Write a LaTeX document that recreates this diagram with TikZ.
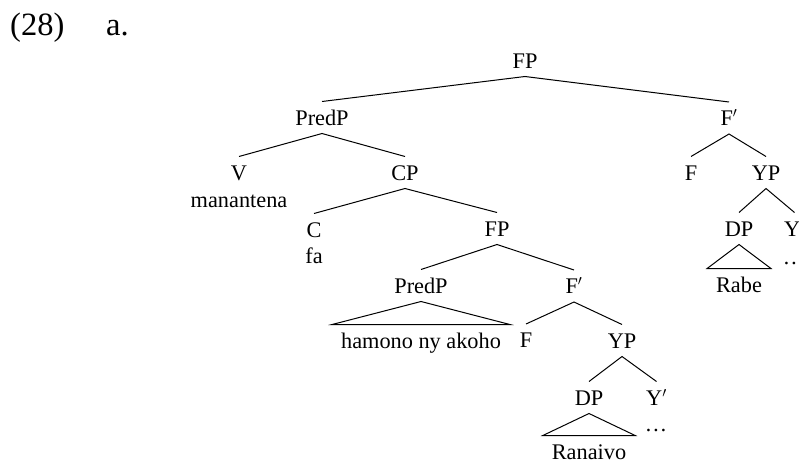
\documentclass[tikz,border=0pt]{standalone}
\usepackage{fontspec}
\setmainfont{Liberation Serif}
\begin{document}
\begin{tikzpicture}[x=1pt,y=-1pt,
  lab/.style={font=\fontsize{22.3}{26}\selectfont, anchor=base, text height=15pt, text depth=0pt, inner ysep=8.5pt, inner xsep=9pt, outer sep=0pt},
  hdr/.style={font=\fontsize{32.5}{38}\selectfont, anchor=base west, inner sep=0pt},
  edge/.style={line width=1pt, line join=miter}]
\useasboundingbox (0,0) rectangle (799,460);
% header
\node[hdr] (num) at (10,36) {(28)};
\node[hdr] (sub) at (106,36) {a.};
% nodes
\node[lab] (fp0) at (525,68) {FP};
\node[lab] (predp1) at (322,125) {PredP};
\node[lab] (fbar1) at (729,125.5) {F$'$};
\node[lab] (v) at (239,180) {V};
\node[lab] (man) at (239,207) {manantena};
\node[lab] (cp) at (405,180) {CP};
\node[lab] (fr) at (691,180) {F};
\node[lab] (ypr) at (766,180) {YP};
\node[lab] (c) at (314,237) {C};
\node[lab] (fa) at (314,263) {fa};
\node[lab] (fp2) at (497,236) {FP};
\node[lab] (dpr) at (739,236) {DP};
\node[lab] (ybarr) at (794.5,236) {Y$'$};
\node[lab] (dotsr) at (794,264) {\ldots};
\node[lab] (rabe) at (739,292) {Rabe};
\node[lab] (predp2) at (421,293) {PredP};
\node[lab] (fbar2) at (574,293.5) {F$'$};
\node[lab] (ham) at (421,348) {hamono ny akoho};
\node[lab] (f2) at (526,347.5) {F};
\node[lab] (yp2) at (622,348) {YP};
\node[lab] (dp2) at (589,405) {DP};
\node[lab] (ybar2) at (656.5,405) {Y$'$};
\node[lab] (dots2) at (656,431) {\ldots};
\node[lab] (ran) at (589,459) {Ranaivo};
% edges
\draw[edge] (predp1.north) -- (fp0.south) -- (fbar1.north);
\draw[edge] (v.north) -- (predp1.south) -- (cp.north);
\draw[edge] (fr.north) -- (fbar1.south) -- (ypr.north);
\draw[edge] (c.north) -- (cp.south) -- (fp2.north);
\draw[edge] (dpr.north) -- (ypr.south) -- (ybarr.north);
\draw[edge] (predp2.north) -- (fp2.south) -- (fbar2.north);
\draw[edge] (f2.north) -- (fbar2.south) -- (yp2.north);
\draw[edge] (dp2.north) -- (yp2.south) -- (ybar2.north);
% triangles
\draw[edge] (predp2.south) -- (ham.north west) -- (ham.north east) -- cycle;
\draw[edge] (dp2.south) -- (ran.north west) -- (ran.north east) -- cycle;
\draw[edge] (dpr.south) -- (rabe.north west) -- (rabe.north east) -- cycle;
\end{tikzpicture}
\end{document}
